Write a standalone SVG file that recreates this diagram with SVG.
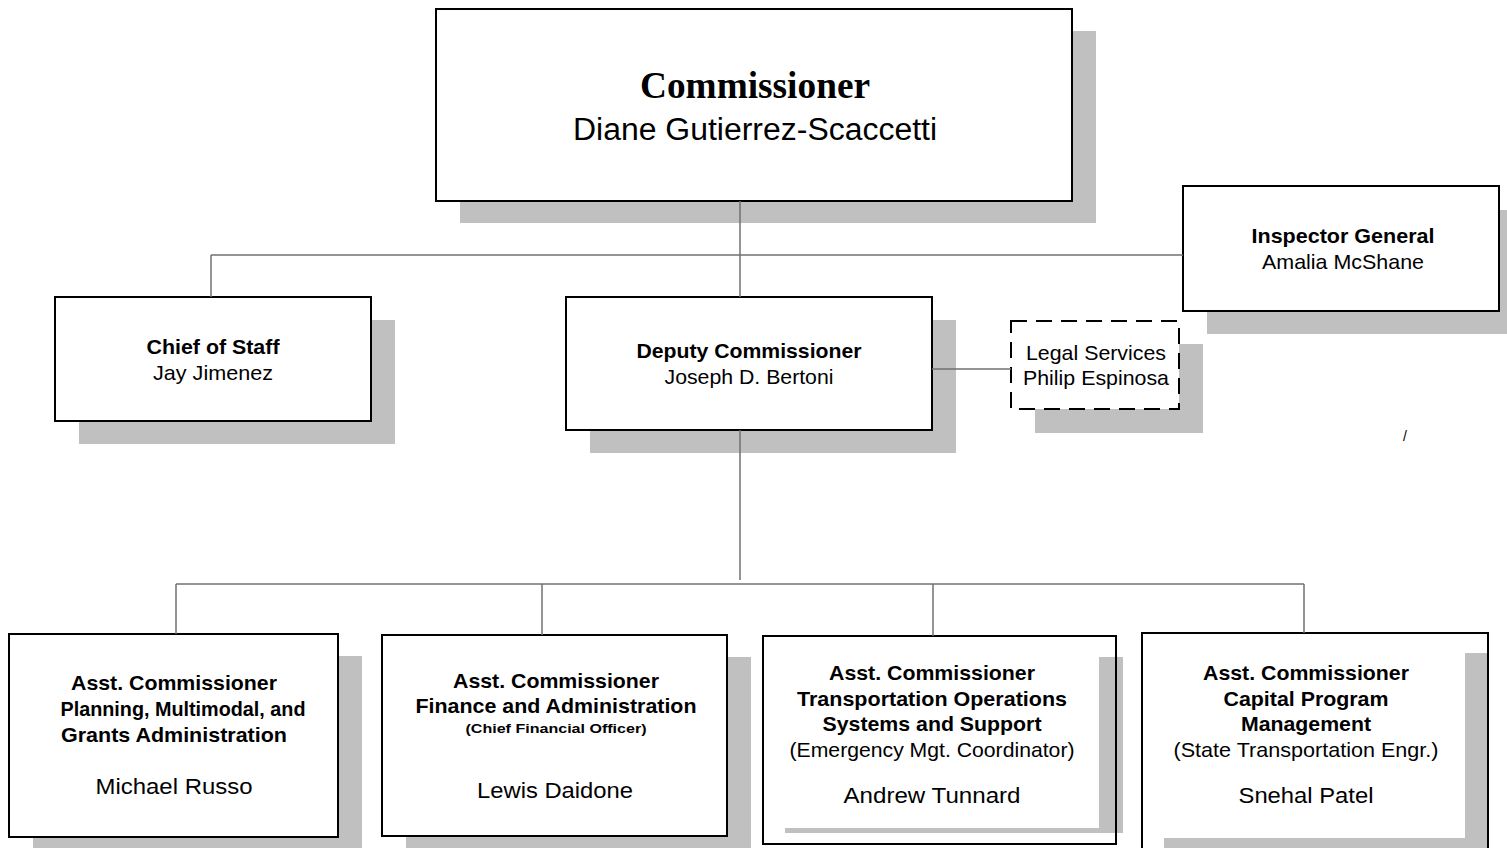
<svg xmlns="http://www.w3.org/2000/svg" width="1507" height="848" viewBox="0 0 1507 848">
<style>
.bg{fill:#ffffff}
.sh{fill:#c0c0c0}
.box{fill:#ffffff;stroke:#000000;stroke-width:2}
.ol{fill:none;stroke:#000000;stroke-width:2}
.dash{fill:#ffffff;stroke:#000000;stroke-width:2;stroke-dasharray:16 9}
.conn{stroke:#707070;stroke-width:1.5;fill:none}
text{font-family:"Liberation Sans",Arial,sans-serif;fill:#000000;text-anchor:middle}
.b{font-weight:bold;font-size:21px}
.r{font-size:21px}
.n{font-size:22px}
.ser{font-family:"Liberation Serif","Times New Roman",serif;font-weight:bold;font-size:37px}
</style>
<rect class="bg" x="0" y="0" width="1507" height="848"/>
<g id="commissioner">
<rect class="sh" x="460" y="31" width="636" height="192"/>
<rect class="box" x="436" y="9" width="636" height="192"/>
<text class="ser" x="755" y="98" textLength="230" lengthAdjust="spacingAndGlyphs">Commissioner</text>
<text x="755" y="140" font-size="31" textLength="364" lengthAdjust="spacingAndGlyphs">Diane Gutierrez-Scaccetti</text>
</g>
<g id="inspector-general">
<rect class="sh" x="1207" y="210" width="316" height="124"/>
<rect class="box" x="1183" y="186" width="316" height="125"/>
<text class="b" x="1343" y="243" textLength="183" lengthAdjust="spacingAndGlyphs">Inspector General</text>
<text class="r" x="1343" y="269" textLength="162" lengthAdjust="spacingAndGlyphs">Amalia McShane</text>
</g>
<g id="chief-of-staff">
<rect class="sh" x="79" y="320" width="316" height="124"/>
<rect class="box" x="55" y="297" width="316" height="124"/>
<text class="b" x="213" y="354" textLength="133" lengthAdjust="spacingAndGlyphs">Chief of Staff</text>
<text class="r" x="213" y="380" textLength="120" lengthAdjust="spacingAndGlyphs">Jay Jimenez</text>
</g>
<g id="deputy-commissioner">
<rect class="sh" x="590" y="320" width="366" height="133"/>
<rect class="box" x="566" y="297" width="366" height="133"/>
<text class="b" x="749" y="358" textLength="225" lengthAdjust="spacingAndGlyphs">Deputy Commissioner</text>
<text class="r" x="749" y="384" textLength="169" lengthAdjust="spacingAndGlyphs">Joseph D. Bertoni</text>
</g>
<g id="legal-services">
<rect class="sh" x="1035" y="344" width="168" height="89"/>
<rect class="dash" x="1011" y="321" width="168" height="88"/>
<text class="r" x="1096" y="360" textLength="140" lengthAdjust="spacingAndGlyphs">Legal Services</text>
<text class="r" x="1096" y="385" textLength="146" lengthAdjust="spacingAndGlyphs">Philip Espinosa</text>
</g>
<g id="asst-planning">
<rect class="sh" x="33" y="656" width="329" height="203"/>
<rect class="box" x="9" y="634" width="329" height="203"/>
<text class="b" x="174" y="690" textLength="206" lengthAdjust="spacingAndGlyphs">Asst. Commissioner</text>
<text class="b" x="183" y="716" textLength="245" lengthAdjust="spacingAndGlyphs">Planning, Multimodal, and</text>
<text class="b" x="174" y="742" textLength="226" lengthAdjust="spacingAndGlyphs">Grants Administration</text>
<text class="n" x="174" y="794" textLength="157" lengthAdjust="spacingAndGlyphs">Michael Russo</text>
</g>
<g id="asst-finance">
<rect class="sh" x="406" y="657" width="345" height="201"/>
<rect class="box" x="382" y="635" width="345" height="201"/>
<text class="b" x="556" y="688" textLength="206" lengthAdjust="spacingAndGlyphs">Asst. Commissioner</text>
<text class="b" x="556" y="713" textLength="281" lengthAdjust="spacingAndGlyphs">Finance and Administration</text>
<text x="556" y="733" font-size="13" font-weight="bold" textLength="181" lengthAdjust="spacingAndGlyphs">(Chief Financial Officer)</text>
<text class="n" x="555" y="798" textLength="156" lengthAdjust="spacingAndGlyphs">Lewis Daidone</text>
</g>
<g id="asst-operations">
<rect class="sh" x="785" y="657" width="338" height="176"/>
<rect class="bg" x="763" y="636" width="336" height="192"/>
<rect class="ol" x="763" y="636" width="353" height="208"/>
<text class="b" x="932" y="680" textLength="206" lengthAdjust="spacingAndGlyphs">Asst. Commissioner</text>
<text class="b" x="932" y="706" textLength="270" lengthAdjust="spacingAndGlyphs">Transportation Operations</text>
<text class="b" x="932" y="731" textLength="219" lengthAdjust="spacingAndGlyphs">Systems and Support</text>
<text class="r" x="932" y="757" textLength="285" lengthAdjust="spacingAndGlyphs">(Emergency Mgt. Coordinator)</text>
<text class="n" x="932" y="803" textLength="177" lengthAdjust="spacingAndGlyphs">Andrew Tunnard</text>
</g>
<g id="asst-capital">
<rect class="sh" x="1164" y="653" width="323" height="210"/>
<rect class="bg" x="1142" y="633" width="323" height="205"/>
<rect class="ol" x="1142" y="633" width="346" height="230"/>
<text class="b" x="1306" y="680" textLength="206" lengthAdjust="spacingAndGlyphs">Asst. Commissioner</text>
<text class="b" x="1306" y="706" textLength="165" lengthAdjust="spacingAndGlyphs">Capital Program</text>
<text class="b" x="1306" y="731" textLength="130" lengthAdjust="spacingAndGlyphs">Management</text>
<text class="r" x="1306" y="757" textLength="265" lengthAdjust="spacingAndGlyphs">(State Transportation Engr.)</text>
<text class="n" x="1306" y="803" textLength="135" lengthAdjust="spacingAndGlyphs">Snehal Patel</text>
</g>
<g id="connectors">
<path class="conn" d="M740,201 V297"/>
<path class="conn" d="M211,255 H1183"/>
<path class="conn" d="M211,255 V297"/>
<path class="conn" d="M932,369 H1011"/>
<path class="conn" d="M740,430 V580"/>
<path class="conn" d="M176,584 H1304"/>
<path class="conn" d="M176,584 V634"/>
<path class="conn" d="M542,584 V635"/>
<path class="conn" d="M933,584 V636"/>
<path class="conn" d="M1304,584 V633"/>
</g>
<text x="1405" y="441" font-size="14">/</text>
</svg>
